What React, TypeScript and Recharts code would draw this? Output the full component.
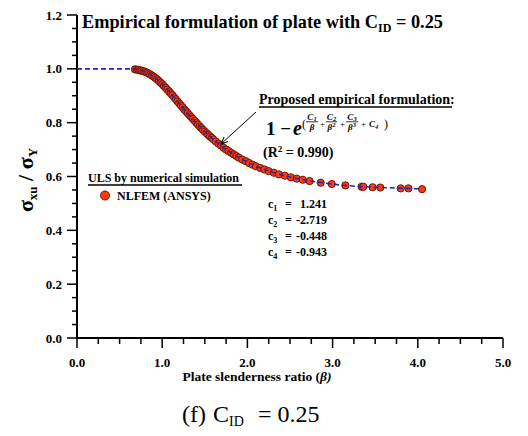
import { ComposedChart, XAxis, YAxis, Scatter } from "recharts"

// NLFEM (ANSYS) results
const simBeta = [
  0.68, 0.7, 0.72, 0.74, 0.76, 0.78, 0.8, 0.82, 0.84, 0.86, 0.88, 0.9, 0.92, 0.94, 0.96, 0.98,
  1.0, 1.02, 1.04, 1.06, 1.08, 1.1, 1.12, 1.14, 1.16, 1.18, 1.2, 1.22, 1.24, 1.26, 1.28, 1.3,
  1.32, 1.34, 1.36, 1.38, 1.4, 1.42, 1.44, 1.46, 1.48, 1.5, 1.52, 1.54, 1.56, 1.58, 1.6, 1.63,
  1.66, 1.69, 1.72, 1.75, 1.78, 1.81, 1.84, 1.87, 1.9, 1.94, 1.98, 2.02, 2.06, 2.1, 2.15, 2.2,
  2.25, 2.31, 2.37, 2.44, 2.51, 2.58, 2.65, 2.73, 2.86, 2.99, 3.15, 3.34, 3.36, 3.47, 3.56,
  3.8, 3.89, 4.05,
]
const simRatio = [
  0.998, 0.997, 0.996, 0.994, 0.993, 0.991, 0.989, 0.986, 0.983, 0.979, 0.975, 0.971, 0.966,
  0.961, 0.955, 0.949, 0.943, 0.936, 0.93, 0.923, 0.916, 0.909, 0.902, 0.894, 0.887, 0.879,
  0.872, 0.864, 0.857, 0.849, 0.842, 0.835, 0.828, 0.821, 0.814, 0.807, 0.8, 0.793, 0.786,
  0.78, 0.773, 0.767, 0.761, 0.755, 0.749, 0.744, 0.738, 0.73, 0.722, 0.715, 0.707, 0.7,
  0.694, 0.688, 0.682, 0.676, 0.67, 0.663, 0.657, 0.65, 0.644, 0.638, 0.632, 0.626, 0.62,
  0.614, 0.608, 0.603, 0.597, 0.592, 0.588, 0.583, 0.577, 0.572, 0.567, 0.562, 0.562, 0.56,
  0.559, 0.556, 0.556, 0.553,
]

// proposed empirical formulation (dashed blue)
const fitBeta = [
  0, 0.68, 0.72, 0.76, 0.8, 0.85, 0.9, 0.95, 1.0, 1.05, 1.1, 1.15, 1.2, 1.25, 1.3, 1.35, 1.4,
  1.45, 1.5, 1.55, 1.6, 1.65, 1.7, 1.75, 1.8, 1.9, 2.0, 2.1, 2.2, 2.3, 2.4, 2.5, 2.7, 2.9, 3.1,
  3.3, 3.5, 3.75, 4.05,
]
const fitRatio = [
  1.0, 1.0, 0.996, 0.993, 0.989, 0.981, 0.971, 0.958, 0.943, 0.927, 0.909, 0.891, 0.872, 0.853,
  0.835, 0.817, 0.8, 0.783, 0.767, 0.752, 0.738, 0.725, 0.712, 0.7, 0.69, 0.67, 0.653, 0.638,
  0.626, 0.615, 0.606, 0.598, 0.585, 0.576, 0.568, 0.563, 0.56, 0.557, 0.554,
]

const xTicks = [0, 0.25, 0.5, 0.75, 1, 1.25, 1.5, 1.75, 2, 2.25, 2.5, 2.75, 3, 3.25, 3.5, 3.75, 4, 4.25, 4.5, 4.75, 5]
const yTicks = [0, 0.05, 0.1, 0.15, 0.2, 0.25, 0.3, 0.35, 0.4, 0.45, 0.5, 0.55, 0.6, 0.65, 0.7, 0.75, 0.8, 0.85, 0.9, 0.95, 1, 1.05, 1.1, 1.15, 1.2]

const coefIndex = ["1", "2", "3", "4"]
const coefValue = ["1.241", "-2.719", "-0.448", "-0.943"]

const simData = simBeta.map((b, i) => ({ beta: b, ratio: simRatio[i] }))
const fitData = fitBeta.map((b, i) => ({ beta: b, ratio: fitRatio[i] }))

const FONT = '"Liberation Serif", "Times New Roman", serif'
const DOT_FILL = "#ff3a0e"
const DOT_EDGE = "#6e1400"
const FIT_BLUE = "#2424b4"

function isMajor(v: number, step: number) {
  const k = v / step
  return Math.abs(k - Math.round(k)) < 1e-6
}

function XTick(props: any) {
  const { x, y, payload } = props
  const major = isMajor(payload.value, 1)
  return (
    <g>
      <line x1={x} y1={y} x2={x} y2={y + (major ? 10 : 6)} stroke="#000" strokeWidth={1.5} />
      {major && (
        <text x={x} y={y + 29} textAnchor="middle" fontFamily={FONT} fontWeight="bold" fontSize={13} fill="#000">
          {payload.value.toFixed(1)}
        </text>
      )}
    </g>
  )
}

function YTick(props: any) {
  const { x, y, payload } = props
  const major = isMajor(payload.value, 0.2)
  return (
    <g>
      <line x1={x - (major ? 10 : 5)} y1={y} x2={x} y2={y} stroke="#000" strokeWidth={1.5} />
      {major && (
        <text x={x - 15} y={y + 4.5} textAnchor="end" fontFamily={FONT} fontWeight="bold" fontSize={13} fill="#000">
          {payload.value.toFixed(1)}
        </text>
      )}
    </g>
  )
}

function Dot(props: any) {
  const { cx, cy } = props
  return <circle cx={cx} cy={cy} r={3.6} fill={DOT_FILL} stroke={DOT_EDGE} strokeWidth={1} />
}

function NoDot() {
  return <g />
}

function Frac({ x, num, sub, den, sup, w }: { x: number; num: string; sub: string; den: string; sup?: string; w: number }) {
  return (
    <g fontFamily={FONT} fontWeight="bold" fontStyle="italic" fill="#000">
      <text x={x + w / 2} y={119.5} textAnchor="middle" fontSize={9}>
        {num}
        <tspan fontSize={6.5} dy={1.5}>{sub}</tspan>
      </text>
      <line x1={x} y1={121.8} x2={x + w} y2={121.8} stroke="#000" strokeWidth={0.8} />
      <text x={x + w / 2} y={129.5} textAnchor="middle" fontSize={9}>
        {den}
        {sup && <tspan fontSize={6.5} dy={-3}>{sup}</tspan>}
      </text>
    </g>
  )
}

function Annotations() {
  return (
    <svg width={528} height={436} style={{ position: "absolute", left: 0, top: 0, pointerEvents: "none" }}>
      <defs>
        <marker id="arrowHead" markerWidth="8" markerHeight="8" refX="7" refY="4" orient="auto" markerUnits="userSpaceOnUse">
          <path d="M0,1 L7,4 L0,7" fill="none" stroke="#000" strokeWidth={1} />
        </marker>
      </defs>

      {/* title */}
      <text x={82} y={28} fontFamily={FONT} fontWeight="bold" fontSize={18.3} fill="#000">
        Empirical formulation of plate with C
        <tspan fontSize={12} dy={4}>ID</tspan>
        <tspan dy={-4}> = 0.25</tspan>
      </text>

      {/* y label */}
      <text
        transform="translate(33,180) rotate(-90)"
        textAnchor="middle"
        fontFamily={FONT}
        fontWeight="bold"
        fontSize={22}
        fill="#000"
      >
        σ<tspan fontSize={13} dy={4}>xu</tspan>
        <tspan dy={-4}> / σ</tspan>
        <tspan fontSize={13} dy={4}>Y</tspan>
      </text>

      {/* x label */}
      <text x={257} y={381} textAnchor="middle" fontFamily={FONT} fontWeight="bold" fontSize={13.5} fill="#000">
        Plate slenderness ratio (<tspan fontStyle="italic">β)</tspan>
      </text>

      {/* caption */}
      <g fontFamily={FONT} fontSize={24} fill="#000">
        <text x={182} y={422}>(f)</text>
        <text x={213} y={422}>
          C<tspan fontSize={14} dy={4}>ID</tspan>
        </text>
        <text x={258} y={422}>= 0.25</text>
      </g>

      {/* legend */}
      <text x={88} y={182} fontFamily={FONT} fontWeight="bold" fontSize={12} fill="#000">
        ULS by numerical simulation
      </text>
      <line x1={88} y1={185} x2={242} y2={185} stroke="#000" strokeWidth={1.3} />
      <circle cx={105} cy={195.5} r={4.5} fill={DOT_FILL} stroke={DOT_EDGE} strokeWidth={1} />
      <text x={117} y={199.5} fontFamily={FONT} fontWeight="bold" fontSize={12} fill="#000">
        NLFEM (ANSYS)
      </text>

      {/* proposed formulation */}
      <text x={259} y={104} fontFamily={FONT} fontWeight="bold" fontSize={14} fill="#000">
        Proposed empirical formulation:
      </text>
      <line x1={259} y1={107} x2={452} y2={107} stroke="#000" strokeWidth={1.3} />
      <line x1={256} y1={112} x2={221} y2={144} stroke="#000" strokeWidth={1} markerEnd="url(#arrowHead)" />

      <text x={266} y={135} fontFamily={FONT} fontWeight="bold" fontSize={19} fill="#000">
        1 −
      </text>
      <text x={293} y={135} fontFamily={FONT} fontWeight="bold" fontStyle="italic" fontSize={20} fill="#000">
        e
      </text>
      <text x={302} y={128} fontFamily={FONT} fontSize={12} fill="#000">(</text>
      <Frac x={306} num="C" sub="1" den="β" w={12} />
      <text x={320} y={127} fontFamily={FONT} fontSize={9} fill="#000">+</text>
      <Frac x={326} num="C" sub="2" den="β" sup="2" w={11} />
      <text x={340} y={127} fontFamily={FONT} fontSize={9} fill="#000">+</text>
      <Frac x={346} num="C" sub="3" den="β" sup="3" w={12} />
      <text x={361} y={127} fontFamily={FONT} fontSize={9} fill="#000">+</text>
      <text x={369} y={127} fontFamily={FONT} fontWeight="bold" fontStyle="italic" fontSize={9} fill="#000">
        C<tspan fontSize={6.5} dy={1.5}>4</tspan>
      </text>
      <text x={384} y={128} fontFamily={FONT} fontSize={12} fill="#000">)</text>

      <text x={263} y={157} fontFamily={FONT} fontWeight="bold" fontSize={14} fill="#000">
        (R<tspan fontSize={9} dy={-5}>2</tspan>
        <tspan dy={5}> = 0.990)</tspan>
      </text>

      {/* coefficients */}
      {coefIndex.map((c, i) => (
        <g key={c} fontFamily={FONT} fontWeight="bold" fontSize={12} fill="#000">
          <text x={268} y={208 + i * 16}>
            c<tspan fontSize={8} dy={2.5}>{c}</tspan>
          </text>
          <text x={285} y={208 + i * 16}>=</text>
          <text x={327} y={208 + i * 16} textAnchor="end">
            {coefValue[i]}
          </text>
        </g>
      ))}
    </svg>
  )
}

export default function App() {
  return (
    <div style={{ position: "absolute", left: 0, top: 0, width: 528, height: 436, background: "#fff" }}>
      <ComposedChart width={528} height={436} margin={{ top: 15, right: 25, bottom: 0, left: 0 }}>
        <XAxis
          type="number"
          dataKey="beta"
          domain={[0, 5]}
          ticks={xTicks}
          interval={0}
          height={98}
          tickSize={0}
          tickMargin={0}
          tickLine={false}
          axisLine={{ stroke: "#000", strokeWidth: 2 }}
          tick={<XTick />}
          allowDataOverflow
        />
        <YAxis
          type="number"
          dataKey="ratio"
          domain={[0, 1.2]}
          ticks={yTicks}
          interval={0}
          width={77}
          tickSize={0}
          tickMargin={0}
          tickLine={false}
          axisLine={{ stroke: "#000", strokeWidth: 2 }}
          tick={<YTick />}
          allowDataOverflow
        />
        <Scatter data={simData} dataKey="ratio" shape={<Dot />} isAnimationActive={false} />
        <Scatter
          data={fitData}
          dataKey="ratio"
          shape={<NoDot />}
          line={{ stroke: FIT_BLUE, strokeWidth: 1.6, strokeDasharray: "5 3", fill: "none" }}
          lineType="joint"
          isAnimationActive={false}
        />
      </ComposedChart>
      <Annotations />
    </div>
  )
}
